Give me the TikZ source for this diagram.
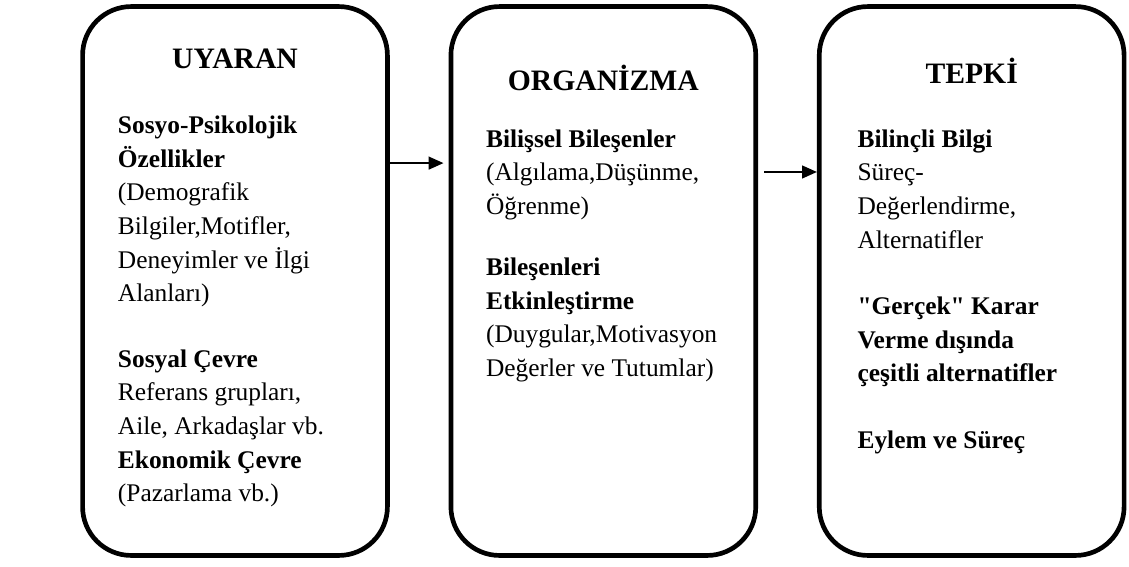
\documentclass[tikz,border=0pt]{standalone}
\usepackage{fontspec}
\setmainfont{Liberation Serif}
\usetikzlibrary{arrows.meta, positioning}
\tikzstyle{stage} = [rectangle, draw, line width=2.2pt, rounded corners=23pt, minimum width=144pt, minimum height=259.3pt]
\tikzstyle{heading} = [anchor=base, inner sep=0pt, font=\fontsize{14}{17}\selectfont\bfseries]
\tikzstyle{body} = [anchor=north west, inner sep=0pt, align=left, font=\fontsize{12}{15.9}\selectfont]
\tikzstyle{line} = [draw, line width=0.95pt, -{Triangle[length=7pt, width=6pt]}]

\begin{document}
\begin{tikzpicture}[x=0.4724pt, y=-0.4724pt, node distance=174pt]
    \useasboundingbox (0,0) rectangle (1129,566);
    % Place nodes
    \node [stage] (uyaran) at (235,281) {};
    \node [stage, right of=uyaran] (organizma) {};
    \node [stage, right of=organizma] (tepki) {};

    \node [heading] (uyaran_title) at ([yshift=-30.2pt]uyaran.north) {UYARAN};
    \node [heading] (organizma_title) at ([yshift=-40.6pt]organizma.north) {ORGANİZMA};
    \node [heading] (tepki_title) at ([yshift=-37.3pt]tepki.north) {TEPKİ};

    \node [body] (uyaran_text) at ([xshift=17.6pt, yshift=-49.8pt]uyaran.north west)
        {\strut\textbf{Sosyo-Psikolojik}\\ \textbf{Özellikler}\\ (Demografik\\ Bilgiler,Motifler,\\
         Deneyimler ve İlgi\\ Alanları)\\[15pt] \textbf{Sosyal Çevre}\\ Referans grupları,\\
         Aile, Arkadaşlar vb.\\ \textbf{Ekonomik Çevre}\\ (Pazarlama vb.)};
    \node [body] (organizma_text) at ([xshift=17.5pt, yshift=-56.2pt]organizma.north west)
        {\strut\textbf{Bilişsel Bileşenler}\\ (Algılama,Düşünme,\\ Öğrenme)\\[13pt]
         \textbf{Bileşenleri}\\ \textbf{Etkinleştirme}\\ (Duygular,Motivasyon\\ Değerler ve Tutumlar)};
    \node [body] (tepki_text) at ([xshift=19pt, yshift=-56.2pt]tepki.north west)
        {\strut\textbf{Bilinçli Bilgi}\\ Süreç-\\ Değerlendirme,\\ Alternatifler\\[15.5pt]
         \textbf{\textquotedbl Gerçek\textquotedbl{} Karar}\\ \textbf{Verme dışında}\\ \textbf{çeşitli alternatifler}\\[15.5pt]
         \textbf{Eylem ve Süreç}};

    % Draw edges
    \path [line] ([yshift=55.7pt]uyaran.east) -- ([xshift=-2.4pt, yshift=55.7pt]organizma.west);
    \path [line] ([xshift=2.8pt, yshift=51.5pt]organizma.east) -- ([yshift=51.5pt]tepki.west);
\end{tikzpicture}
\end{document}
